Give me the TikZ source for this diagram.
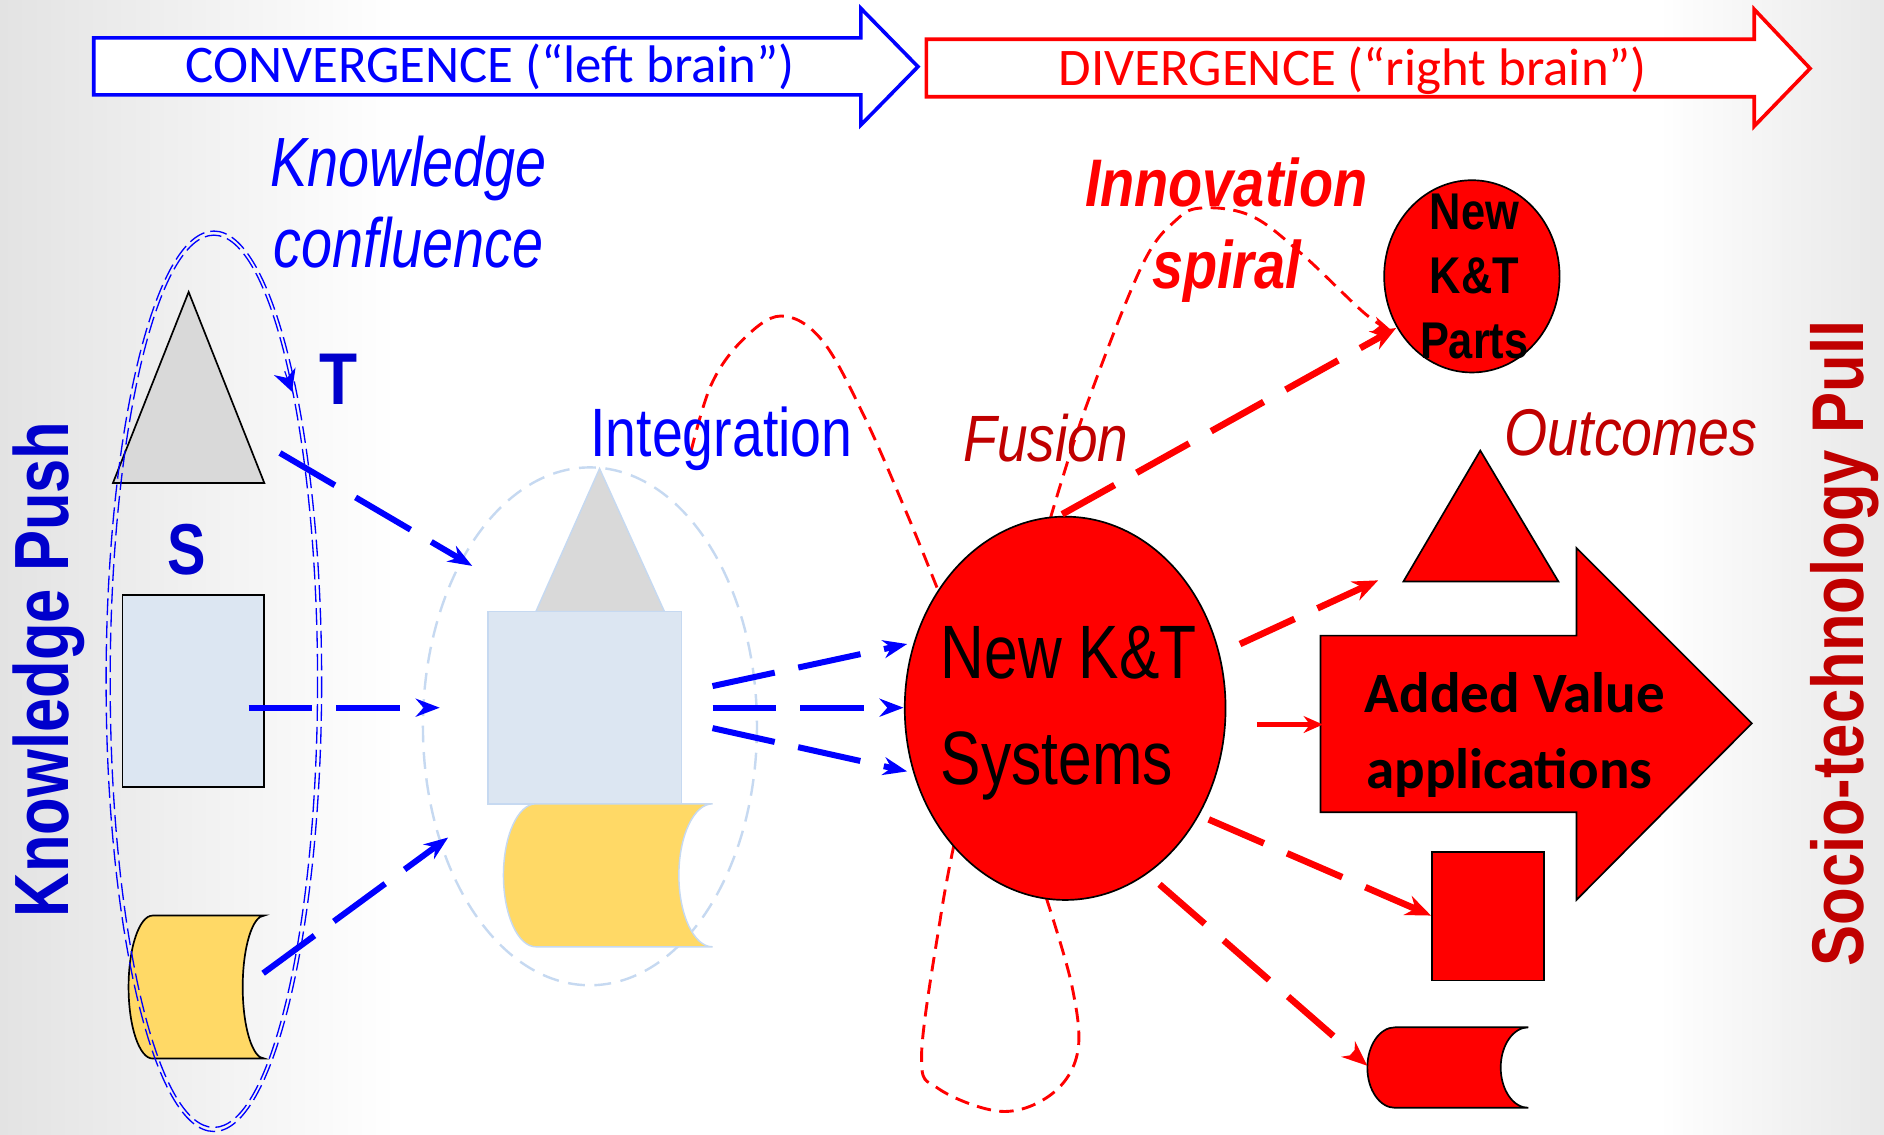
\documentclass[tikz,border=0pt]{standalone}
\usepackage{fontspec}
\setmainfont{Liberation Sans}
\newfontfamily\calfont{Carlito}
\usepackage{graphicx}
\usetikzlibrary{arrows.meta,shapes.geometric}
\definecolor{myblue}{HTML}{0000FF}
\definecolor{dkblue}{HTML}{0000CC}
\definecolor{myred}{HTML}{FF0000}
\definecolor{dkred}{HTML}{C00000}
\definecolor{tgray}{HTML}{D9D9D9}
\definecolor{lblue}{HTML}{DCE6F2}
\definecolor{ylw}{HTML}{FFD966}
\definecolor{faint}{HTML}{C6D9F1}
\newcommand{\myfs}[1]{\fontsize{#1}{#1}\selectfont}
\newcommand{\nx}[2]{\scalebox{#1}[1]{#2}}
\begin{document}
\begin{tikzpicture}[x=1pt,y=-1pt,
  txt/.style={inner sep=0pt, outer sep=0pt},
  shp/.style={draw=black, line width=1.4pt, line join=miter},
  faintshp/.style={draw=faint, line width=1.2pt},
  bluearr/.style={draw=myblue, line width=5pt, dash pattern=on 53pt off 20pt, -{Stealth[length=20pt,width=15pt]}},
  redarr/.style={draw=myred, line width=5.5pt, dash pattern=on 50pt off 21pt, -{Stealth[length=21pt,width=17pt]}},
  spiral/.style={draw=myred, line width=2.4pt, dash pattern=on 12pt off 7pt},
  bigarrow/.style={line width=3pt, fill=white, line join=miter},
  ringline/.style={draw=myblue, line width=1.1pt, dash pattern=on 14pt off 5pt}
]
% background
\useasboundingbox (0,0) rectangle (1568,944);
\fill[white] (0,0) rectangle (1568,944);
\shade[left color=black!11, right color=white] (0,0) rectangle (330,944);
\shade[left color=white, right color=black!9] (1380,0) rectangle (1568,944);

% top arrows
\draw[bigarrow, draw=myblue] (78,31.5) -- (716.5,31.5) -- (716.5,7) -- (764,55.5) -- (716.5,104) -- (716.5,79) -- (78,79) -- cycle;
\node[txt, anchor=base, text=myblue, font=\calfont\myfs{44}] (conv) at (408,69) {CONVERGENCE (“left brain”)};
\draw[bigarrow, draw=myred] (771,32.7) -- (1460,32.7) -- (1460,7.8) -- (1506.5,57) -- (1460,105) -- (1460,80.5) -- (771,80.5) -- cycle;
\node[txt, anchor=base, text=myred, font=\calfont\myfs{44}] (divg) at (1126,71) {DIVERGENCE (“right brain”)};

% left group
\draw[shp, fill=tgray] (157,243) -- (220,402) -- (94,402) -- cycle;
\draw[shp, fill=lblue] (102,495) rectangle (220,655);
\draw[shp, fill=ylw] (127,762) -- (220,762) arc[start angle=270, end angle=90, x radius=18, y radius=59.5]
  -- (127,881) arc[start angle=90, end angle=270, x radius=20, y radius=59.5] -- cycle;
\draw[ringline] (178,567) ellipse[x radius=86.3, y radius=371.3];
\draw[ringline] (178,567) ellipse[x radius=89.7, y radius=374.7];
\coordinate (ra) at (237,309);
\coordinate (rb) at (243,326);
\draw[draw=myblue, line width=1pt, -{Stealth[length=18pt,width=19pt]}] (ra) -- (rb);

\node[txt, anchor=base, text=myblue, font=\itshape\myfs{58}] (know1) at (340,155.5) {\nx{0.8}{Knowledge}};
\node[txt, anchor=base, text=myblue, font=\itshape\myfs{58}] (know2) at (340,223) {\nx{0.8}{confluence}};
\node[txt, anchor=base, text=dkblue, font=\bfseries\myfs{61}] (tlab) at (282,337) {\nx{0.85}{T}};
\node[txt, anchor=base, text=dkblue, font=\bfseries\myfs{60}] (slab) at (155,478) {\nx{0.8}{S}};
\node[txt, rotate=90, anchor=base, text=dkblue, font=\bfseries\myfs{64}] (kpush) at (57,557) {\nx{0.80}{Knowledge Push}};

% middle group
\draw[draw=faint, line width=2pt, dash pattern=on 14pt off 8pt] (491,604.5) ellipse[x radius=139, y radius=215.5];
\draw[faintshp, fill=tgray] (499,390) -- (553,509) -- (446,509) -- cycle;
\draw[faintshp, fill=lblue] (406,509) rectangle (567,669);
\draw[faintshp, fill=ylw] (446,669) -- (593,669) arc[start angle=270, end angle=90, x radius=28, y radius=59.5]
  -- (446,788) arc[start angle=90, end angle=270, x radius=27, y radius=59.5] -- cycle;

% blue arrows left -> middle
\coordinate (b1s) at (233,377); \coordinate (b1e) at (393,471);
\coordinate (b2s) at (207,589); \coordinate (b2e) at (366,589);
\coordinate (b3s) at (219,810); \coordinate (b3e) at (373,697);
\draw[bluearr] (b1s) -- (b1e);
\draw[bluearr] (b2s) -- (b2e);
\draw[bluearr] (b3s) -- (b3e);

% blue arrows middle -> systems
\coordinate (m1s) at (593,571); \coordinate (m1e) at (755,536);
\coordinate (m2s) at (593,589); \coordinate (m2e) at (752,589);
\coordinate (m3s) at (593,606); \coordinate (m3e) at (755,642);
\draw[bluearr] (m1s) -- (m1e);
\draw[bluearr] (m2s) -- (m2e);
\draw[bluearr] (m3s) -- (m3e);

% outcomes shapes
\draw[shp, fill=myred] (1232,375) -- (1297,484) -- (1168,484) -- cycle;
\draw[shp, fill=myred] (1099,529) -- (1312,529) -- (1312,456) -- (1458,602) -- (1312,749) -- (1312,676) -- (1099,676) -- cycle;
\draw[shp, fill=myred] (1192,709) rectangle (1285,816);
\draw[shp, fill=myred] (1161,855) -- (1272,855) arc[start angle=270, end angle=90, x radius=23, y radius=33.5]
  -- (1161,922) arc[start angle=90, end angle=270, x radius=23, y radius=33.5] -- cycle;

% innovation spiral loops
\draw[spiral] plot[smooth, tension=0.6] coordinates {(575,376) (592,320) (618,283) (650,263) (684,283) (719,346) (755,428) (781,492)};
\draw[spiral] plot[smooth, tension=0.6] coordinates {(794,703) (783,762) (767,878) (781,906) (834,925) (876,910) (897,875) (892,820) (871,748)};
\draw[spiral, -{Stealth[length=14pt,width=13pt]}] plot[smooth, tension=0.6] coordinates {(874,432) (903,341) (950,222) (979,183) (1002,173) (1042,180) (1083,211) (1136,261) (1157,274)};

% new K&T systems
\node[ellipse, shp, fill=myred, minimum width=267pt, minimum height=319pt, inner sep=0pt] (sys) at (886.5,589.5) {};
\node[txt, anchor=base west, font=\myfs{63}] (sysA) at (783,565) {\nx{0.8}{New K\&T}};
\node[txt, anchor=base west, font=\myfs{63}] (sysB) at (783,653) {\nx{0.8}{Systems}};

% parts circle
\node[ellipse, shp, fill=myred, minimum width=146pt, minimum height=160pt, inner sep=0pt] (parts) at (1225,230) {};
\node[txt, anchor=base, font=\bfseries\myfs{43}] (pA) at (1227,191) {\nx{0.84}{New}};
\node[txt, anchor=base, font=\bfseries\myfs{43}] (pB) at (1227,244) {\nx{0.84}{K\&T}};
\node[txt, anchor=base, font=\bfseries\myfs{43}] (pC) at (1227,298) {\nx{0.84}{Parts}};

% red arrows
\coordinate (r0s) at (884,428); \coordinate (r0e) at (1162,273);
\coordinate (r1s) at (1032,536); \coordinate (r1e) at (1147,483);
\coordinate (r2s) at (1046,603); \coordinate (r2e) at (1101,603);
\coordinate (r3s) at (1006,682); \coordinate (r3e) at (1191,762);
\coordinate (r4s) at (965,736); \coordinate (r4e) at (1138,887);
\draw[redarr] (r0s) -- (r0e);
\draw[redarr] (r1s) -- (r1e);
\draw[redarr, line width=4pt, -{Stealth[length=16pt,width=14pt]}] (r2s) -- (r2e);
\draw[redarr] (r3s) -- (r3e);
\draw[redarr] (r4s) -- (r4e);

% labels
\node[txt, anchor=base, text=myblue, font=\myfs{57}] (integ) at (600.5,380) {\nx{0.81}{Integration}};
\node[txt, anchor=base, text=dkred, font=\itshape\myfs{54.5}] (fus) at (870.5,384) {\nx{0.84}{Fusion}};
\node[txt, anchor=base, text=dkred, font=\itshape\myfs{55}] (outc) at (1357.5,379) {\nx{0.84}{Outcomes}};
\node[txt, anchor=base, text=myred, font=\bfseries\itshape\myfs{56}] (innov) at (1020.5,172) {\nx{0.83}{Innovation}};
\node[txt, anchor=base, text=myred, font=\bfseries\itshape\myfs{56}] (spir) at (1021,240) {\nx{0.83}{spiral}};
\node[txt, anchor=base west, font=\calfont\bfseries\myfs{47.5}] (addA) at (1136,593) {Added Value};
\node[txt, anchor=base west, font=\calfont\bfseries\myfs{47.5}] (addB) at (1137,656) {applications};
\node[txt, rotate=90, anchor=base, text=dkred, font=\bfseries\myfs{61}] (socio) at (1551,535.5) {\nx{0.84}{Socio-technology Pull}};
\end{tikzpicture}
\end{document}
